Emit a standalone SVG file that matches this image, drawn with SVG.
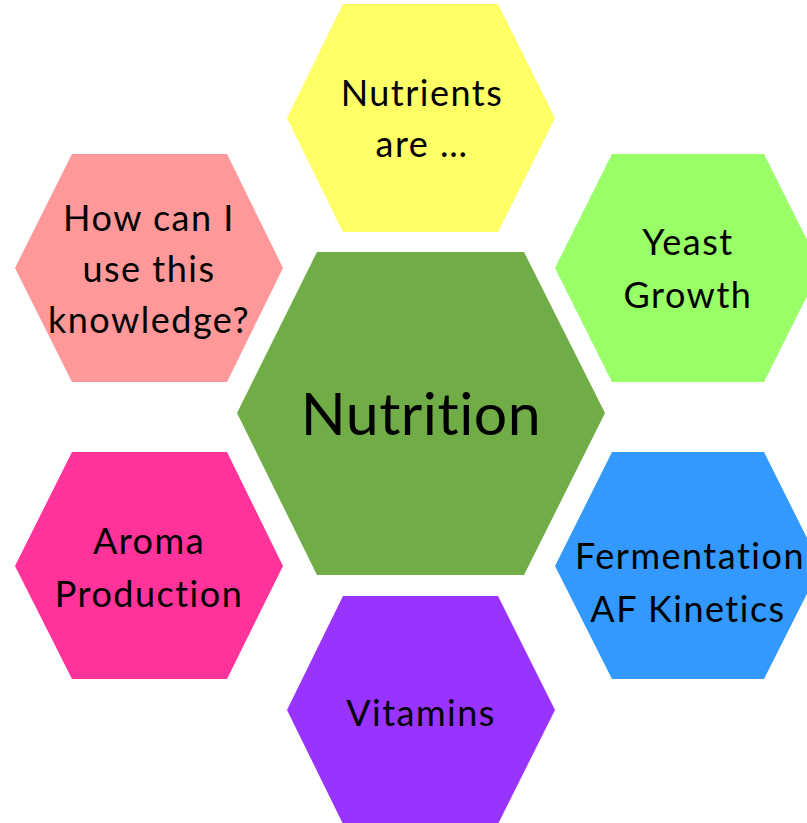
<svg xmlns="http://www.w3.org/2000/svg" width="807" height="823" viewBox="0 0 807 823">
<style>
.t{font-family:Lato,"Open Sans","Liberation Sans",sans-serif;font-size:36px;letter-spacing:1.5px;fill:#000;text-anchor:middle;font-variant-ligatures:none;font-feature-settings:"liga" 0}
.big{font-size:59px;letter-spacing:0.5px}
</style>
<rect width="807" height="823" fill="#fff"/>
<g id="center">
<polygon points="317,252 524,252 605,413 524,575 317,575 237,413" fill="#70AD47"/>
<text class="t big" x="421" y="435">Nutrition</text>
</g>
<g id="nutrients">
<polygon points="343,4 498,4 555,118 498,232 343,232 287,118" fill="#FFFF66"/>
<text class="t" x="422" y="106">Nutrients</text>
<text class="t" x="422" y="157">are …</text>
</g>
<g id="yeast">
<polygon points="612,154 764,154 821,268 764,382 612,382 555,268" fill="#99FF66"/>
<text class="t" x="688" y="255">Yeast</text>
<text class="t" x="688" y="308">Growth</text>
</g>
<g id="knowledge">
<polygon points="72,154 227,154 283,268 227,382 72,382 15,268" fill="#FF9999"/>
<text class="t" x="149" y="231">How can I</text>
<text class="t" x="149" y="282">use this</text>
<text class="t" x="149" y="333">knowledge?</text>
</g>
<g id="fermentation">
<polygon points="612,452 764,452 821,566 764,679 612,679 555,566" fill="#3399FF"/>
<text class="t" x="690" y="569">Fermentation</text>
<text class="t" x="688" y="622">AF Kinetics</text>
</g>
<g id="aroma">
<polygon points="72,452 227,452 283,566 227,679 72,679 15,566" fill="#FF3399"/>
<text class="t" x="149" y="554">Aroma</text>
<text class="t" x="149" y="607">Production</text>
</g>
<g id="vitamins">
<polygon points="343,596 498,596 555,710 498,824 343,824 287,710" fill="#9933FF"/>
<text class="t" x="421" y="726">Vitamins</text>
</g>
<g id="connectors"/>
</svg>
